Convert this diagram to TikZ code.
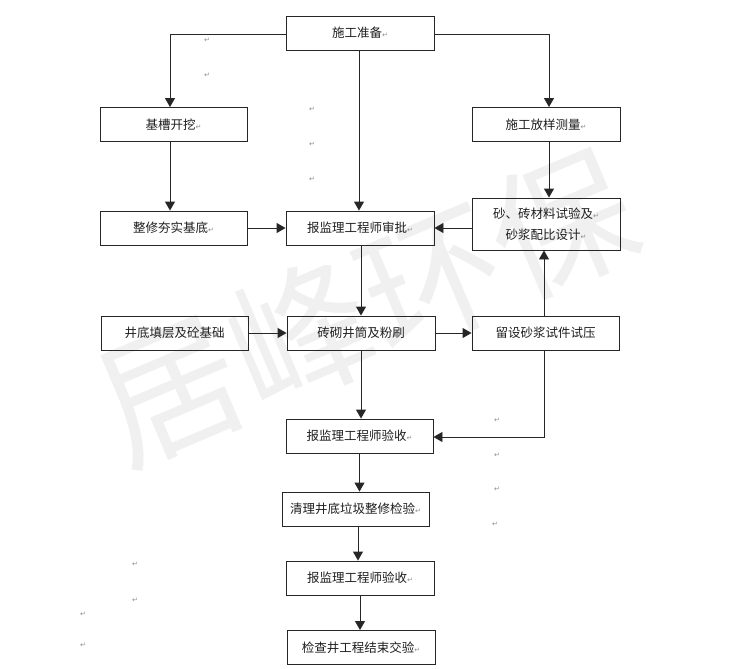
\documentclass[tikz,border=0pt]{standalone}
\usepackage{fontspec}
\newfontfamily\cjk{Noto Sans CJK SC}
\newfontfamily\dv{DejaVu Sans}
\usetikzlibrary{arrows.meta}
\newcommand\pmk{{\dv\fontsize{7}{8}\selectfont\color{black!45}↵}}
\begin{document}
\begin{tikzpicture}[x=1pt,y=-1pt,
  box/.style={draw=black!85, line width=0.9pt, minimum width=148pt, minimum height=34pt,
    inner sep=0pt, align=center, font=\cjk\fontsize{12.5}{21}\selectfont, text=black!88},
  arr/.style={-{Triangle[width=10pt,length=9pt]}, line width=0.9pt, draw=black!85},
  pm/.style={inner sep=0pt, font=\dv\fontsize{7}{8}\selectfont, text=black!45},
  wm/.style={inner sep=0pt, rotate=23, font=\cjk\fontsize{142}{142}\selectfont, text=black!6}]
\useasboundingbox (0,0) rectangle (737,669);
\fill[white] (0,0) rectangle (737,669);
% watermark
\node[wm] (wmk) at (366,306) {居峰环保};
% boxes
\node[box] (prep) at (360,33) {施工准备\pmk};
\node[box, minimum width=147pt] (jc) at (173.5,124.5) {基槽开挖\pmk};
\node[box] (fy) at (546,124.5) {施工放样测量\pmk};
\node[box, minimum width=147pt] (zx) at (173.5,228) {整修夯实基底\pmk};
\node[box] (sp) at (360,228) {报监理工程师审批\pmk};
\node[box, minimum height=52pt] (sj) at (546,224) {砂、砖材料试验及\pmk\\砂浆配比设计\pmk};
\node[box, minimum width=147pt] (jd) at (174.5,333) {井底填层及砼基础};
\node[box] (zq) at (361,333) {砖砌井筒及粉刷};
\node[box, minimum width=147pt] (ly) at (545.5,333) {留设砂浆试件试压};
\node[box, minimum width=147pt] (ys1) at (359.5,436) {报监理工程师验收\pmk};
\node[box, minimum width=147pt] (ql) at (355.5,509) {清理井底垃圾整修检验\pmk};
\node[box] (ys2) at (360,578) {报监理工程师验收\pmk};
\node[box] (jc2) at (361,647.5) {检查井工程结束交验\pmk};
% connectors
\draw[arr] ([yshift=-1pt]prep.west) -| ([xshift=-3.5pt]jc.north);
\draw[arr] ([yshift=-1pt]prep.east) -| ([xshift=3pt]fy.north);
\draw[arr] ([xshift=-1pt]prep.south) -- ([xshift=-1pt]prep.south |- sp.north);
\draw[arr] ([xshift=-3.5pt]jc.south) -- ([xshift=-3.5pt]jc.south |- zx.north);
\draw[arr] ([xshift=3pt]fy.south) -- ([xshift=3pt]fy.south |- sj.north);
\draw[arr] (zx.east) -- (sp.west);
\draw[arr] (sj.west |- sp.east) -- (sp.east);
\draw[arr] ([xshift=1pt]sp.south) -- ([xshift=1pt]sp.south |- zq.north);
\draw[arr] (jd.east) -- (zq.west);
\draw[arr] (zq.east) -- (ly.west);
\draw[arr] ([xshift=-1.5pt]ly.north) -- ([xshift=-1.5pt]ly.north |- sj.south);
\draw[arr] (zq.south) -- (zq.south |- ys1.north);
\draw[arr] ([xshift=-1.5pt]ly.south) |- ([yshift=-1pt]ys1.east);
\draw[arr] (ys1.south) -- (ys1.south |- ql.north);
\draw[arr] ([xshift=2.5pt]ql.south) -- ([xshift=2.5pt]ql.south |- ys2.north);
\draw[arr] (ys2.south) -- (ys2.south |- jc2.north);
% paragraph marks
\node[pm] (p1) at (207,40) {↵};
\node[pm] (p2) at (207,75) {↵};
\node[pm] (p3) at (312,109) {↵};
\node[pm] (p4) at (312,144) {↵};
\node[pm] (p5) at (312,179) {↵};
\node[pm] (p6) at (497,420) {↵};
\node[pm] (p7) at (497,455) {↵};
\node[pm] (p8) at (497,489) {↵};
\node[pm] (p9) at (495,524) {↵};
\node[pm] (p10) at (135,564) {↵};
\node[pm] (p11) at (135,600) {↵};
\node[pm] (p12) at (83,614) {↵};
\node[pm] (p13) at (83,645) {↵};
\end{tikzpicture}
\end{document}
